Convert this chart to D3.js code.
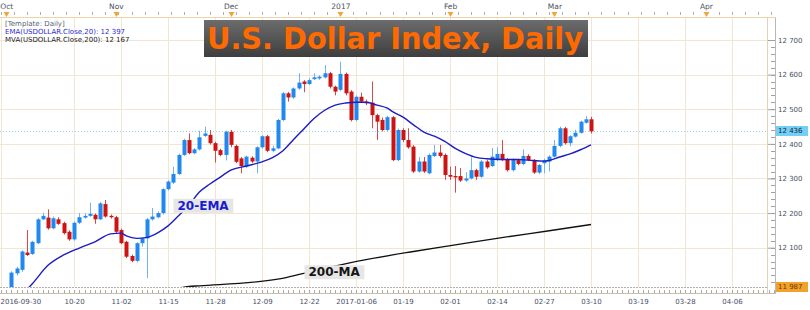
<!DOCTYPE html>
<html>
<head>
<meta charset="utf-8">
<script src="https://cdn.jsdelivr.net/npm/d3@7"></script>
<style>
  body { margin: 0; background: #fff; }
  svg { display: block; font-family: "DejaVu Sans", sans-serif; }
</style>
</head>
<body>
<script>
// ---------------- data ----------------
const firstDay = "2016-09-30";
const lastDay = "2017-03-10";
const holidays = ["2016-12-26", "2017-01-02"];

// daily candles [open, high, low, close], one per trading day from 2016-09-30
// (first two days sit below the visible price range)
const candles = [
  null, null,
  [11965, 12032, 11960, 12028], [12026, 12045, 12020, 12040], [12036, 12092, 12030, 12089], [12086, 12151, 12076, 12079],
  [12082, 12120, 12079, 12117], [12113, 12186, 12110, 12182], [12182, 12201, 12180, 12192], [12187, 12211, 12152, 12156], [12156, 12190, 12153, 12185],
  [12182, 12188, 12166, 12169], [12171, 12175, 12138, 12142], [12146, 12150, 12120, 12124], [12124, 12175, 12120, 12172], [12172, 12200, 12168, 12188],
  [12187, 12200, 12184, 12192], [12192, 12230, 12189, 12198], [12195, 12199, 12169, 12182], [12182, 12232, 12180, 12228], [12226, 12238, 12187, 12190],
  [12192, 12196, 12184, 12188], [12188, 12192, 12142, 12146], [12151, 12155, 12110, 12113], [12117, 12120, 12070, 12074], [12076, 12080, 12058, 12062],
  [12062, 12116, 12058, 12113], [12113, 12130, 12103, 12127], [12127, 12186, 12012, 12182], [12182, 12215, 12178, 12190], [12188, 12205, 12185, 12200],
  [12200, 12272, 12196, 12269], [12269, 12295, 12265, 12291], [12288, 12334, 12284, 12313], [12313, 12371, 12310, 12368], [12368, 12415, 12365, 12411],
  [12411, 12430, 12370, 12373], [12373, 12388, 12370, 12384], [12384, 12438, 12381, 12419], [12423, 12450, 12420, 12430], [12426, 12440, 12398, 12402],
  [12402, 12406, 12346, 12380], [12382, 12386, 12364, 12368], [12368, 12438, 12352, 12435], [12435, 12440, 12390, 12397], [12394, 12398, 12344, 12348],
  [12358, 12362, 12315, 12336], [12334, 12366, 12330, 12363], [12360, 12364, 12345, 12349], [12349, 12393, 12315, 12390], [12390, 12425, 12386, 12422],
  [12422, 12426, 12376, 12380], [12380, 12395, 12376, 12387], [12387, 12472, 12384, 12469], [12469, 12550, 12465, 12546], [12546, 12550, 12522, 12534],
  [12534, 12563, 12530, 12560], [12560, 12604, 12556, 12577], [12580, 12584, 12549, 12573], [12573, 12590, 12570, 12584], [12587, 12604, 12584, 12592],
  [12589, 12598, 12585, 12594], [12592, 12628, 12589, 12604], [12604, 12608, 12560, 12565], [12565, 12568, 12540, 12551], [12556, 12637, 12552, 12602],
  [12602, 12606, 12540, 12546], [12551, 12555, 12465, 12469], [12469, 12540, 12465, 12536], [12536, 12548, 12518, 12522], [12522, 12528, 12512, 12517],
  [12519, 12580, 12445, 12483], [12483, 12487, 12411, 12464], [12469, 12476, 12436, 12440], [12440, 12481, 12436, 12477], [12477, 12480, 12350, 12353],
  [12353, 12444, 12350, 12440], [12440, 12445, 12405, 12411], [12411, 12445, 12386, 12390], [12392, 12396, 12316, 12320], [12320, 12362, 12316, 12349],
  [12349, 12362, 12316, 12320], [12315, 12372, 12312, 12368], [12365, 12397, 12362, 12375], [12375, 12397, 12360, 12365], [12368, 12372, 12296, 12310],
  [12310, 12334, 12296, 12305], [12307, 12336, 12259, 12303], [12307, 12330, 12290, 12294], [12294, 12318, 12290, 12300], [12300, 12361, 12297, 12324],
  [12324, 12328, 12296, 12305], [12305, 12353, 12302, 12349], [12349, 12353, 12328, 12332], [12336, 12388, 12333, 12363], [12353, 12390, 12350, 12371],
  [12371, 12411, 12350, 12353], [12355, 12359, 12320, 12324], [12324, 12358, 12320, 12355], [12353, 12357, 12338, 12342], [12342, 12384, 12338, 12365],
  [12365, 12370, 12350, 12353], [12353, 12356, 12313, 12317], [12317, 12342, 12313, 12339], [12344, 12357, 12315, 12353], [12349, 12367, 12320, 12363],
  [12363, 12411, 12360, 12394], [12394, 12450, 12390, 12445], [12445, 12449, 12398, 12402], [12402, 12425, 12393, 12422], [12421, 12441, 12418, 12432],
  [12432, 12467, 12429, 12464], [12461, 12480, 12458, 12471], [12471, 12478, 12430, 12436]
];

// 20-day EMA: [trading-day index, value]
const ema20 = [
  [5, 11980], [6, 11996], [9, 12049], [12, 12079], [15, 12099], [18, 12117], [21, 12140], [23, 12142], [24, 12134],
  [26, 12127], [28, 12130], [30, 12143], [32, 12163], [34, 12192], [36, 12223], [38, 12261], [40, 12284], [42, 12304],
  [44, 12324], [47, 12336], [50, 12348], [52, 12360], [54, 12380], [56, 12412], [58, 12443], [60, 12474], [62, 12497],
  [64, 12512], [66, 12518], [68, 12520], [70, 12520], [72, 12512], [74, 12503], [75, 12493], [77, 12477], [79, 12455],
  [81, 12434], [83, 12422], [85, 12407], [87, 12387], [89, 12372], [91, 12361], [93, 12357], [96, 12355], [99, 12355],
  [101, 12353], [104, 12350], [105, 12352], [107, 12362], [109, 12371], [111, 12383], [113, 12397]
];

// 200-day moving average: [trading-day index, value]
const ma200 = [
  [33, 11980], [36, 11988], [38, 11990], [53, 12009], [58, 12026], [67, 12057], [79, 12089], [87, 12108],
  [95, 12127], [105, 12149], [113, 12167]
];

const dateTicks = ["2016-09-30", "2016-10-20", "2016-11-02", "2016-11-15", "2016-11-28", "2016-12-09", "2016-12-22",
  "2017-01-06", "2017-01-19", "2017-02-01", "2017-02-14", "2017-02-27", "2017-03-10", "2017-03-19", "2017-03-28", "2017-04-06"];
const monthTicks = ["2016-10-03", "2016-11-01", "2016-12-01", "2017-01-03", "2017-02-01", "2017-03-01", "2017-04-01"];
const monthLabels = ["Oct", "Nov", "Dec", "2017", "Feb", "Mar", "Apr"];
const priceTicks = [12100, 12200, 12300, 12400, 12500, 12600, 12700];
const lastClose = 12436;
const markerLevel = 11987;

const annoText = ["20-EMA", "200-MA"];
const annoAt = [[38.7, 12222], [63.8, 12030]];

// ---------------- setup ----------------
const W = 810, H = 310;
const plot = {left: 0, right: 767, top: 18, bottom: 287};

const parse = d3.utcParse("%Y-%m-%d");
const iso = d3.utcFormat("%Y-%m-%d");
const days = d3.utcDays(parse(firstDay), d3.utcDay.offset(parse(lastDay), 1))
  .filter(d => d.getUTCDay() % 6 !== 0 && !holidays.includes(iso(d)));

// trading-day index; dates after the last bar continue one slot per calendar day
function dayIndex(s) {
  const d = parse(s);
  const k = days.findIndex(t => +t === +d);
  if (k >= 0) return k;
  return days.length - 1 + d3.utcDay.count(days[days.length - 1], d);
}

const x = d3.scaleLinear().domain([0, days.length - 1]).range([1, 591]);
const y = d3.scaleLinear().domain([12100, 12700]).range([247.7, 40]);

const loc = d3.formatLocale({decimal: ".", thousands: " ", grouping: [3], currency: ["", ""]});
const priceFmt = loc.format(",.0f");

const svg = d3.select("body").append("svg")
  .attr("width", W)
  .attr("height", H);

svg.append("defs").append("clipPath").attr("id", "clip")
  .append("rect")
  .attr("x", plot.left).attr("y", plot.top)
  .attr("width", plot.right - plot.left).attr("height", plot.bottom - plot.top);

// ---------------- grid ----------------
const grid = svg.append("g").attr("stroke", "#f1e6d4").attr("stroke-width", 1);
grid.selectAll(".hg").data(priceTicks).enter().append("line")
  .attr("x1", plot.left).attr("x2", plot.right)
  .attr("y1", d => Math.round(y(d)) + 0.5).attr("y2", d => Math.round(y(d)) + 0.5);
grid.selectAll(".vg").data(dateTicks).enter().append("line")
  .attr("x1", d => Math.round(x(dayIndex(d))) + 0.5).attr("x2", d => Math.round(x(dayIndex(d))) + 0.5)
  .attr("y1", plot.top).attr("y2", plot.bottom);

// price lines
svg.append("line")
  .attr("x1", plot.left).attr("x2", plot.right)
  .attr("y1", Math.round(y(lastClose)) + 0.5).attr("y2", Math.round(y(lastClose)) + 0.5)
  .attr("stroke", "#8fd3f5").attr("stroke-dasharray", "1,2");
svg.append("line")
  .attr("x1", plot.left).attr("x2", plot.right)
  .attr("y1", Math.round(y(markerLevel)) + 0.5).attr("y2", Math.round(y(markerLevel)) + 0.5)
  .attr("stroke", "#b0b0b0").attr("stroke-dasharray", "2,1");

// ---------------- series ----------------
const chart = svg.append("g").attr("clip-path", "url(#clip)");

const bars = candles.map((c, i) => c && {i: i, o: c[0], h: c[1], l: c[2], c: c[3]}).filter(Boolean);
const up = d => d.c >= d.o;

chart.append("g").selectAll("line").data(bars).enter().append("line")
  .attr("x1", d => Math.round(x(d.i)) + 0.5).attr("x2", d => Math.round(x(d.i)) + 0.5)
  .attr("y1", d => y(d.h)).attr("y2", d => y(d.l))
  .attr("stroke", d => up(d) ? "#6fb4f2" : "#d84a4a")
  .attr("stroke-width", 1);

chart.append("g").selectAll("rect").data(bars).enter().append("rect")
  .attr("x", d => Math.round(x(d.i)) - 1.5)
  .attr("width", 4)
  .attr("y", d => y(Math.max(d.o, d.c)))
  .attr("height", d => Math.max(1, Math.abs(y(d.o) - y(d.c))))
  .attr("fill", d => up(d) ? "#2088ee" : "#cc1414");

const line = d3.line().x(d => x(d[0])).y(d => y(d[1])).curve(d3.curveMonotoneX);

chart.append("path").datum(ma200)
  .attr("d", line).attr("fill", "none")
  .attr("stroke", "#111").attr("stroke-width", 1.3);

chart.append("path").datum(ema20)
  .attr("d", line).attr("fill", "none")
  .attr("stroke", "#1c1cc4").attr("stroke-width", 1.4);

// annotation labels on top of the lines
const annoColor = ["#1a1ad2", "#151515"];
annoText.forEach((t, k) => {
  const g = svg.append("g");
  const txt = g.append("text")
    .attr("x", x(annoAt[k][0])).attr("y", y(annoAt[k][1]))
    .attr("text-anchor", "middle").attr("dy", "0.36em")
    .attr("font-size", 12).attr("font-weight", "bold")
    .attr("fill", annoColor[k])
    .text(t);
  const b = txt.node().getBBox();
  g.insert("rect", "text")
    .attr("x", b.x - 4).attr("y", b.y)
    .attr("width", b.width + 8).attr("height", b.height)
    .attr("fill", "#e6e6e6");
});

// ---------------- legend ----------------
const legend = svg.append("g").attr("font-size", 7);
legend.append("text").attr("x", 5).attr("y", 26).attr("fill", "#5a5f73").text("[Template: Daily]");
legend.append("text").attr("x", 5).attr("y", 34).attr("fill", "#2b2bd0")
  .text("EMA(USDOLLAR.Close,20): " + priceFmt(ema20[ema20.length - 1][1]));
legend.append("text").attr("x", 5).attr("y", 42).attr("fill", "#222")
  .text("MVA(USDOLLAR.Close,200): " + priceFmt(ma200[ma200.length - 1][1]));

// ---------------- title ----------------
const grad = svg.select("defs").append("linearGradient")
  .attr("id", "tg").attr("x1", 0).attr("x2", 0).attr("y1", 0).attr("y2", 1);
grad.append("stop").attr("offset", "0%").attr("stop-color", "#6c6c6c");
grad.append("stop").attr("offset", "100%").attr("stop-color", "#3e3e3e");
svg.append("rect")
  .attr("x", 204).attr("y", 20).attr("width", 384).attr("height", 37)
  .attr("fill", "url(#tg)");
svg.append("text")
  .attr("x", 207).attr("y", 48.5)
  .attr("font-size", 31).attr("font-weight", "bold")
  .attr("fill", "#ff6a00")
  .attr("textLength", 376).attr("lengthAdjust", "spacingAndGlyphs")
  .text("U.S. Dollar Index, Daily");

// ---------------- axes ----------------
// right price axis
const minor = d3.range(12000, 12720, 20);
svg.append("g").attr("stroke", "#a0a0a0").selectAll("line").data(minor).enter().append("line")
  .attr("x1", 771).attr("x2", 775)
  .attr("y1", d => Math.round(y(d)) + 0.5).attr("y2", d => Math.round(y(d)) + 0.5);

const yAxis = d3.axisRight(y).tickValues(priceTicks).tickFormat(priceFmt).tickSize(7).tickPadding(3);
svg.append("g")
  .attr("transform", "translate(768,0)")
  .call(yAxis)
  .call(g => g.select(".domain").remove())
  .call(g => g.selectAll(".tick line").attr("stroke", "#a0a0a0"))
  .call(g => g.selectAll(".tick text").attr("fill", "#4a4f63").attr("font-size", 7).attr("font-family", "DejaVu Sans"));

svg.append("line").attr("x1", plot.right + 0.5).attr("x2", plot.right + 0.5)
  .attr("y1", plot.top).attr("y2", 293).attr("stroke", "#e3d3b6");
svg.append("line").attr("x1", 775.5).attr("x2", 775.5)
  .attr("y1", plot.top).attr("y2", 294).attr("stroke", "#b8b8b8");

// highlighted price labels
const tags = [[lastClose, "#74cff6", "#10243a"], [markerLevel, "#f2a12a", "#6a3a00"]];
tags.forEach(t => {
  const yy = Math.round(y(t[0]));
  svg.append("rect").attr("x", 776).attr("y", yy - 5).attr("width", 32).attr("height", 10).attr("fill", t[1]);
  svg.append("text").attr("x", 778).attr("y", yy).attr("dy", "0.34em")
    .attr("font-size", 7).attr("fill", t[2]).text(priceFmt(t[0]));
});

// bottom date axis
const lastIdx = Math.floor(x.invert(plot.right + 8));
svg.append("line").attr("x1", 0).attr("x2", 776).attr("y1", 293.5).attr("y2", 293.5).attr("stroke", "#c9bfae");
svg.append("g").attr("stroke", "#b0a898").selectAll("line").data(d3.range(0, lastIdx + 1)).enter().append("line")
  .attr("x1", d => Math.round(x(d)) + 0.5).attr("x2", d => Math.round(x(d)) + 0.5)
  .attr("y1", 290).attr("y2", 293);

const tickFmt = (s, k) => (k === 0 || s.slice(5) < dateTicks[k - 1].slice(5)) ? s : s.slice(5);
const xAxis = d3.axisBottom(x)
  .tickValues(dateTicks.map(dayIndex))
  .tickFormat((d, k) => tickFmt(dateTicks[k], k))
  .tickSize(3).tickPadding(6);
svg.append("g")
  .attr("transform", "translate(0,290)")
  .call(xAxis)
  .call(g => g.select(".domain").remove())
  .call(g => g.selectAll(".tick line").attr("stroke", "#b0a898"))
  .call(g => g.selectAll(".tick text").attr("fill", "#4a4f63").attr("font-size", 7).attr("font-family", "DejaVu Sans"))
  .call(g => g.select(".tick text").attr("text-anchor", "start").attr("x", -1));

// top month ruler
svg.append("line").attr("x1", 0).attr("x2", 776).attr("y1", 17.5).attr("y2", 17.5).attr("stroke", "#ecd3a8");
svg.append("g").attr("stroke", "#b0b0b0").selectAll("line").data(d3.range(0, lastIdx + 1, 2.5)).enter().append("line")
  .attr("x1", d => Math.round(x(d)) + 0.5).attr("x2", d => Math.round(x(d)) + 0.5)
  .attr("y1", 12).attr("y2", 15);

const topAxis = d3.axisTop(x)
  .tickValues(monthTicks.map(dayIndex))
  .tickFormat((d, k) => monthLabels[k])
  .tickSize(0).tickPadding(9.5);
svg.append("g")
  .attr("transform", "translate(0,18)")
  .call(topAxis)
  .call(g => g.select(".domain").remove())
  .call(g => g.selectAll(".tick text").attr("fill", "#4a4f63").attr("font-size", 7.5).attr("font-family", "DejaVu Sans"));

svg.append("g").attr("fill", "#f0a43a").selectAll("path").data(monthTicks).enter().append("path")
  .attr("d", d => {
    const cx = Math.round(x(dayIndex(d))) + 0.5;
    return `M${cx - 3},12 L${cx + 3},12 L${cx},17 Z`;
  });
</script>
</body>
</html>
